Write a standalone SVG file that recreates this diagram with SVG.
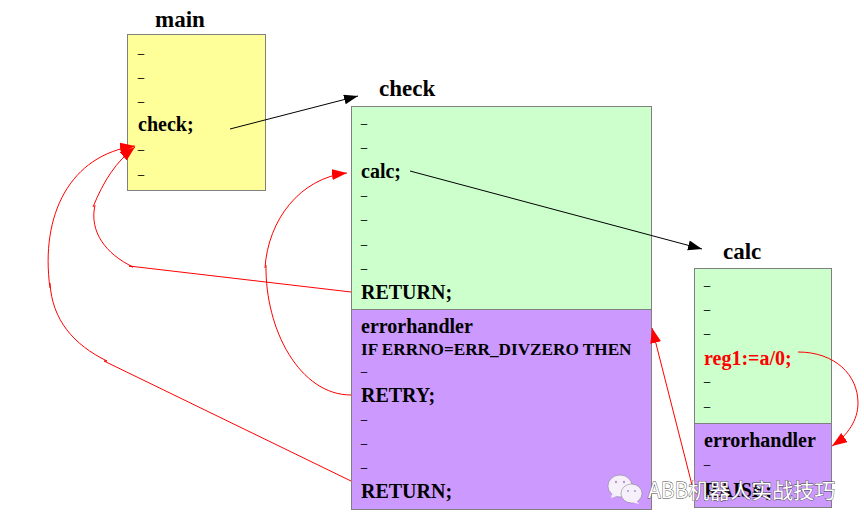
<svg xmlns="http://www.w3.org/2000/svg" width="864" height="529" viewBox="0 0 864 529">
  <style>
    text { font-family: "Liberation Serif", "Times New Roman", serif; font-weight: bold; font-size: 20px; fill: #000; }
    .title { font-size: 23px; }
    .small { font-size: 17.2px; }
    .dash { font-size: 12px; font-weight: normal; stroke: #000; stroke-width: 0.2; }
    .err { fill: #f00; }
    .box { stroke: #808080; stroke-width: 1; }
    .yellow { fill: #ffff99; }
    .green { fill: #ccffcc; }
    .purple { fill: #cc99ff; }
    .black { fill: none; stroke: #000; stroke-width: 1; }
    .red { fill: none; stroke: #f00; stroke-width: 1; }
    .bubble { fill: #f6f0fb; stroke: #777; stroke-width: 0.5; }
    .eye { fill: #b79ad0; }
    text.mark { font-family: "Noto Sans CJK SC", "Noto Sans", sans-serif; font-weight: normal; font-size: 21px; fill: #fff; stroke: #444; stroke-width: 0.8; paint-order: stroke; }
  </style>
  <defs>
    <marker id="headBlack" markerUnits="userSpaceOnUse" markerWidth="16" markerHeight="12" refX="14" refY="5" orient="auto">
      <path d="M0 0 L14 5 L0 10 Z" fill="#000"/>
    </marker>
    <marker id="headRed" markerUnits="userSpaceOnUse" markerWidth="17" markerHeight="13" refX="15" refY="5.500" orient="auto">
      <path d="M0 0 L15 5.500 L0 11 Z" fill="#f00"/>
    </marker>
  </defs>
  <rect width="864" height="529" fill="#fff"/>

  <g id="main">
    <text class="title" x="155" y="27">main</text>
    <rect class="box yellow" x="127.5" y="34.5" width="138" height="156"/>
    <text class="dash" x="138" y="57">–</text>
    <text class="dash" x="138" y="81">–</text>
    <text class="dash" x="138" y="105">–</text>
    <text x="138" y="131">check;</text>
    <text class="dash" x="138" y="153">–</text>
    <text class="dash" x="138" y="178">–</text>
  </g>

  <g id="check">
    <text class="title" x="379" y="96">check</text>
    <rect class="box green" x="351.5" y="106.5" width="300" height="203"/>
    <rect class="box purple" x="351.5" y="309.5" width="300" height="200"/>
    <text class="dash" x="361" y="127">–</text>
    <text class="dash" x="361" y="151">–</text>
    <text x="361" y="178">calc;</text>
    <text class="dash" x="361" y="199">–</text>
    <text class="dash" x="361" y="223">–</text>
    <text class="dash" x="361" y="248">–</text>
    <text class="dash" x="361" y="272">–</text>
    <text x="361" y="299">RETURN;</text>
    <text x="361" y="333">errorhandler</text>
    <text class="small" x="361" y="355">IF ERRNO=ERR_DIVZERO THEN</text>
    <text class="dash" x="361" y="375">–</text>
    <text x="361" y="402">RETRY;</text>
    <text class="dash" x="361" y="423">–</text>
    <text class="dash" x="361" y="447">–</text>
    <text class="dash" x="361" y="471">–</text>
    <text x="361" y="498">RETURN;</text>
  </g>

  <g id="calc">
    <text class="title" x="723" y="259">calc</text>
    <rect class="box green" x="694.5" y="268.5" width="137" height="155"/>
    <rect class="box purple" x="694.5" y="423.5" width="137" height="84"/>
    <text class="dash" x="704" y="289">–</text>
    <text class="dash" x="704" y="313">–</text>
    <text class="dash" x="704" y="337">–</text>
    <text class="err" x="704" y="365">reg1:=a/0;</text>
    <text class="dash" x="704" y="385">–</text>
    <text class="dash" x="704" y="410">–</text>
    <text x="704" y="447">errorhandler</text>
    <text class="dash" x="704" y="468">–</text>
    <text x="704" y="497">RAISE;</text>
  </g>

  <g id="connectors">
    <path class="black" d="M230 129 L358 96" marker-end="url(#headBlack)"/>
    <path class="black" d="M410 171 L702 249" marker-end="url(#headBlack)"/>
    <path class="red" d="M351 292 L129 266 L133 267 C106 254 89 232 95 205"/>
    <path class="red" d="M93 207 C104 180 116 162 135 147" marker-end="url(#headRed)"/>
    <path class="red" d="M351 481 L104 361 L107 361 C74 345 52 320 50 283"/>
    <path class="red" d="M50 288 C40 215 70 155 135 146" marker-end="url(#headRed)"/>
    <path class="red" d="M351 395 C300 395 265 330 266 265"/>
    <path class="red" d="M265 268 C268 220 300 178 347 173" marker-end="url(#headRed)"/>
    <path class="red" d="M798 352 C835 352 858 375 858 403 C858 420 848 435 832 446" marker-end="url(#headRed)"/>
    <path class="red" d="M692 485 L652 328" marker-end="url(#headRed)"/>
  </g>

  <g id="watermark">
    <ellipse class="bubble" cx="620" cy="486" rx="12" ry="11"/>
    <path d="M612 494 L611 498 L617 496 Z" fill="#f6f0fb"/>
    <circle class="eye" cx="616" cy="482" r="1.200"/>
    <circle class="eye" cx="624" cy="482" r="1.200"/>
    <ellipse class="bubble" cx="631.500" cy="493.500" rx="10.500" ry="9.500"/>
    <path d="M636 500 L639 504 L631 502 Z" fill="#f6f0fb"/>
    <circle class="eye" cx="628" cy="491" r="1.100"/>
    <circle class="eye" cx="635" cy="491" r="1.100"/>
    <text class="mark" x="648" y="498">ABB机器人实战技巧</text>
  </g>
</svg>
